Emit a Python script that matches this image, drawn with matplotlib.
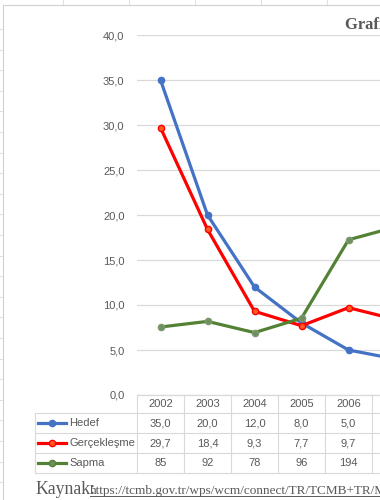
import matplotlib
matplotlib.use("Agg")
import matplotlib.pyplot as plt
from matplotlib.lines import Line2D

years = ["2002", "2003", "2004", "2005", "2006", "2007"]
hedef = [35.0, 20.0, 12.0, 8.0, 5.0, 4.0]
gercek = [29.7, 18.4, 9.3, 7.7, 9.7, 8.4]
sapma = [85, 92, 78, 96, 194, 210]
y_ticks = [0, 5, 10, 15, 20, 25, 30, 35, 40]

series_names = ["Hedef", "Gerçekleşme", "Sapma"]
colors = ["#4472C4", "#FF0000", "#548235"]
marker_faces = ["#4472C4", "#FF5A1F", "#6E8F5E"]

W, H = 380, 500
GRID = "#D9D9D9"
TXT = "#595959"


def fx(x):
    return x / W


def fy(y):
    return 1 - y / H


def hline(fig, x0, x1, y, color=GRID, lw=0.8):
    fig.add_artist(Line2D([fx(x0), fx(x1)], [fy(y), fy(y)], color=color, lw=lw,
                          transform=fig.transFigure))


def vline(fig, x, y0, y1, color=GRID, lw=0.8):
    fig.add_artist(Line2D([fx(x), fx(x)], [fy(y0), fy(y1)], color=color, lw=lw,
                          transform=fig.transFigure))


fig = plt.figure(figsize=(3.8, 5.0), dpi=100)
fig.patch.set_facecolor("white")

# spreadsheet grid peeking around the chart object
for x in [63, 129, 195, 261, 327]:
    vline(fig, x, 0, 5, color="#E1E1E1")
for i in range(24):
    y = 29 + i * 20.6
    hline(fig, 0, 3, y, color="#E1E1E1")
vline(fig, 3, 5, 500, color="#D0D0D0")
hline(fig, 3, 380, 5, color="#D0D0D0")

# plot area: category slots 47 px wide starting at x=137, y from 35 (40) to 395 (0)
col_w = 47
left = 137
ax = fig.add_axes([fx(left), fy(395), (col_w * len(years)) / W, 360 / H])
ax.set_xlim(-0.5, len(years) - 0.5)
ax.set_ylim(0, 40)
ax.set_yticks(y_ticks)
ax.set_yticklabels([f"{v:.1f}".replace(".", ",") for v in y_ticks],
                   fontsize=8, color=TXT, family="Liberation Sans")
ax.tick_params(axis="y", length=0, pad=9)
ax.set_xticks([])
ax.grid(axis="y", color=GRID, lw=0.9)
ax.set_axisbelow(True)
for s in ["top", "right", "left"]:
    ax.spines[s].set_visible(False)
ax.spines["bottom"].set_color(GRID)

xs = list(range(len(years)))
ax.plot(xs, hedef, color=colors[0], lw=2.3, marker="o", ms=4.5,
        mfc=marker_faces[0], mec=colors[0], zorder=3)
ax.plot(xs, gercek, color=colors[1], lw=2.3, marker="o", ms=4.5,
        mfc=marker_faces[1], mec=colors[1], zorder=3)

# Sapma sits on a hidden secondary axis (0-450)
ax2 = ax.twinx()
ax2.set_ylim(0, 450)
ax2.set_xlim(-0.5, len(years) - 0.5)
ax2.axis("off")
ax2.plot(xs, sapma, color=colors[2], lw=2.3, marker="o", ms=4.5,
         mfc=marker_faces[2], mec="#7F9A72", zorder=3)

# data table (only the columns that fall inside the visible crop get text)
row_edges = [395, 413, 433, 453, 473]
key_left = 35
for y in row_edges[1:]:
    hline(fig, key_left, 380, y)
hline(fig, left, 380, row_edges[0])
vline(fig, key_left, row_edges[1], row_edges[-1])
for i in range(len(years) + 1):
    vline(fig, left + i * col_w, row_edges[0], row_edges[-1])

for i, yr in enumerate(years):
    cx = left + i * col_w + col_w / 2
    if cx + 12 > W:
        continue
    fig.text(fx(cx), fy((row_edges[0] + row_edges[1]) / 2), yr, ha="center",
             va="center", fontsize=8, color=TXT, family="Liberation Sans")
    cells = [f"{hedef[i]:.1f}".replace(".", ","),
             f"{gercek[i]:.1f}".replace(".", ","),
             f"{sapma[i]}"]
    for r, val in enumerate(cells):
        cy = (row_edges[r + 1] + row_edges[r + 2]) / 2
        fig.text(fx(cx), fy(cy), val, ha="center", va="center", fontsize=8,
                 color=TXT, family="Liberation Sans")

for r, name in enumerate(series_names):
    cy = (row_edges[r + 1] + row_edges[r + 2]) / 2
    fig.add_artist(Line2D([fx(38), fx(66)], [fy(cy), fy(cy)], color=colors[r], lw=2.3,
                          transform=fig.transFigure))
    fig.add_artist(Line2D([fx(52)], [fy(cy)], marker="o", ms=4.5, color=colors[r],
                          mfc=marker_faces[r], transform=fig.transFigure))
    fig.text(fx(69), fy(cy), name, ha="left", va="center", fontsize=8, color=TXT,
             family="Liberation Sans")

# title (cut off by the crop)
fig.text(fx(345), fy(25), "Grafik 1: Enflasyon Hedefi ve Gerçekleşme", ha="left",
         va="center", fontsize=12, fontweight="bold", color=TXT,
         family="Liberation Serif")

# source line
fig.text(fx(35), fy(494), "Kaynak:", ha="left", va="baseline", fontsize=12.8,
         color=TXT, family="Liberation Serif")
fig.text(fx(90), fy(494),
         "https://tcmb.gov.tr/wps/wcm/connect/TR/TCMB+TR/Main+Menu/Istatistikler/Enflasyon+Verileri",
         ha="left", va="baseline", fontsize=9.5, color=TXT, family="Liberation Serif")
hline(fig, 90, 380, 496, color=TXT, lw=0.7)

fig.savefig("out.png", dpi=100, facecolor="white")
